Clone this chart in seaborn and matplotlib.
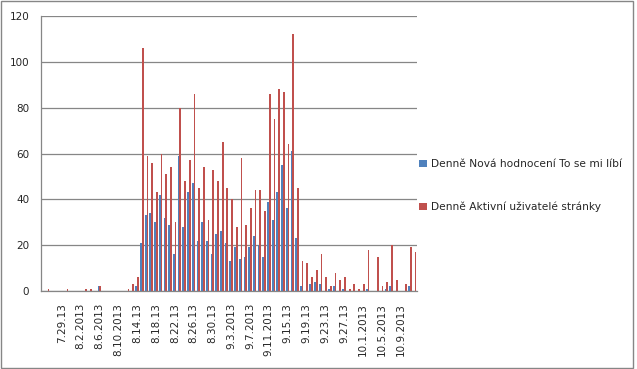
import numpy as np
import pandas as pd
import matplotlib
matplotlib.use("Agg")
import matplotlib.pyplot as plt
from matplotlib.patches import Patch, Rectangle
import seaborn as sns

# daily categories, 25.7.2013 - 12.10.2013
days = [d.strftime("%m.%d.%Y") for d in pd.date_range("2013-07-25", "2013-10-12")]

# Denně Nová hodnocení To se mi líbí
likes = [0, 0, 0, 0, 0, 0, 0, 0, 0, 0, 0, 0, 2, 0, 0, 0, 0, 0, 0, 0,
         2, 21, 33, 34, 30, 42, 32, 29, 16, 59, 28, 43, 47, 22, 30, 22, 16, 25, 26, 21,
         13, 19, 14, 15, 19, 24, 20, 15, 39, 31, 43, 55, 36, 61, 23, 2, 0, 3, 4, 3,
         0, 1, 2, 0, 1, 0, 0, 0, 0, 1, 0, 0, 0, 1, 2, 0, 0, 0, 2, 0]

# Denně Aktivní uživatelé stránky
active = [0, 1, 0, 0, 0, 1, 0, 0, 0, 1, 1, 0, 2, 0, 0, 0, 0, 0, 1, 3,
          6, 106, 59, 56, 43, 60, 51, 54, 30, 80, 48, 57, 86, 45, 54, 31, 53, 48, 65, 45,
          40, 28, 58, 29, 36, 44, 44, 35, 86, 75, 88, 87, 64, 112, 45, 13, 12, 6, 9, 16,
          6, 2, 8, 5, 6, 1, 3, 1, 3, 18, 0, 15, 2, 4, 20, 5, 0, 3, 19, 17]

series_names = ["Denně Nová hodnocení To se mi líbí", "Denně Aktivní uživatelé stránky"]
colors = ["#4F81BD", "#C0504D"]

tick_pos = list(range(4, 80, 4))
tick_labels = ["7.29.13", "8.2.2013", "8.6.2013", "8.10.2013", "8.14.13", "8.18.13",
               "8.22.13", "8.26.13", "8.30.13", "9.3.2013", "9.7.2013", "9.11.2013",
               "9.15.13", "9.19.13", "9.23.13", "9.27.13", "10.1.2013", "10.5.2013",
               "10.9.2013"]

df = pd.DataFrame({
    "day": days * 2,
    "value": likes + active,
    "series": [series_names[0]] * len(days) + [series_names[1]] * len(days),
})

sns.set_style("white")
plt.rcParams["font.family"] = ["DejaVu Sans"]

grey = "#868686"
fig = plt.figure(figsize=(6.37, 3.69), dpi=100)
ax = fig.add_axes([0.0639, 0.2114, 0.5907, 0.7452])
ax.set_axisbelow(True)

sns.barplot(data=df, x="day", y="value", hue="series", palette=colors,
            width=0.74, saturation=1, legend=False, ax=ax,
            linewidth=0, antialiased=False)

ax.set_ylim(0, 120)
ax.set_yticks(range(0, 121, 20))
ax.set_xlim(-0.5, len(days) - 0.5)
ax.set_xticks(tick_pos)
ax.set_xticklabels(tick_labels, rotation=90, fontsize=7.5)
ax.set_xticks(np.arange(-0.5, len(days), 1), minor=True)
ax.tick_params(axis="x", which="major", length=0, pad=8.6)
ax.tick_params(axis="x", which="minor", length=3.3, color=grey, width=0.8)
ax.tick_params(axis="y", length=3.3, color=grey, width=0.8, pad=5, labelsize=7.5)
ax.set_xlabel("")
ax.set_ylabel("")

ax.grid(axis="y", color=grey, linewidth=0.9)
for s in ["top", "right"]:
    ax.spines[s].set_visible(False)
for s in ["left", "bottom"]:
    ax.spines[s].set_color(grey)
    ax.spines[s].set_linewidth(0.9)

handles = [Patch(facecolor=c, edgecolor="none") for c in colors]
fig.legend(handles, series_names, loc="upper left", bbox_to_anchor=(0.658, 0.568),
           frameon=False, fontsize=7.7, handlelength=0.7, handleheight=0.7,
           handletextpad=0.4, labelspacing=3.0, borderpad=0, borderaxespad=0)

# chart area border
fig.patches.append(Rectangle((0.001, 0.004), 0.9935, 0.994, transform=fig.transFigure,
                             fill=False, edgecolor=grey, linewidth=1))

fig.savefig("out.png", dpi=100)
